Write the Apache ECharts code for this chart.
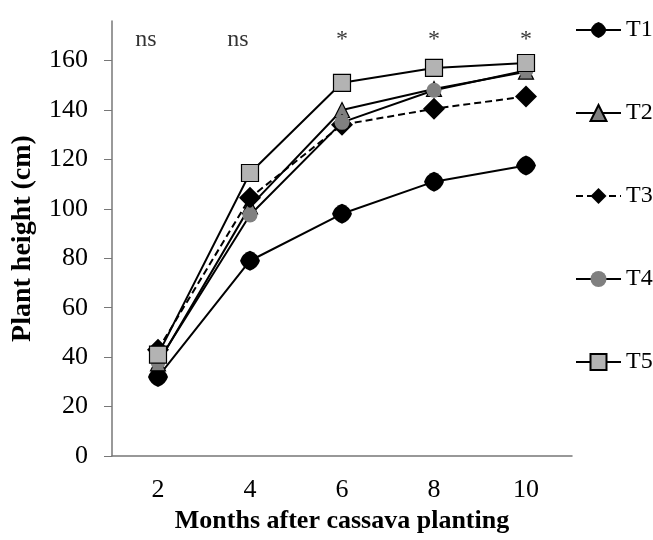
<!DOCTYPE html>
<html>
<head>
<meta charset="utf-8">
<script src="https://cdn.jsdelivr.net/npm/echarts@6/dist/echarts.min.js"></script>
<style>html,body{margin:0;padding:0;background:#fff;}#c{width:653px;height:540px;}</style>
</head>
<body>
<div id="c"></div>
<script>
const months = ['2', '4', '6', '8', '10'];
const t1 = [32, 79, 98, 111, 117.5];
const t2 = [37.5, 101, 140, 148.5, 155.5];
const t3 = [43, 104.5, 134, 140.5, 145.5];
const t4 = [38, 97.5, 135, 148, 156];
const t5 = [41, 114.5, 151, 157, 159];
const signif = ['ns', 'ns', '*', '*', '*'];
const yTicks = [0, 20, 40, 60, 80, 100, 120, 140, 160];

const FONT = 'Liberation Serif';
const AX = '#777777';
const signifLevel = 168.5;
const roundDiamond = 'path://M10,0 Q17.5,2.5 20,10 Q17.5,17.5 10,20 Q2.5,17.5 0,10 Q2.5,2.5 10,0 Z';

const chart = echarts.init(document.getElementById('c'), null, {renderer: 'canvas'});
function lineSeries(name, data, symbol, size, fill, border, dashed) {
  return {
    name: name, type: 'line', data: data,
    symbol: symbol, symbolSize: size,
    lineStyle: {color: '#000', width: 2, type: dashed ? [7, 4] : 'solid'},
    itemStyle: {color: fill, borderColor: border || fill, borderWidth: border ? 1.2 : 0},
    emphasis: {disabled: true}
  };
}
chart.setOption({
  animation: false,
  backgroundColor: '#fff',
  grid: {left: 112, right: 81, top: 21, bottom: 84},
  legend: {
    orient: 'vertical', left: 570, top: 13,
    itemWidth: 45, itemHeight: 20, itemGap: 59,
    textStyle: {fontFamily: FONT, fontSize: 24, color: '#000'},
    data: ['T1', 'T2', 'T3', 'T4', 'T5']
  },
  xAxis: {
    type: 'category', data: months, boundaryGap: true,
    name: 'Months after cassava planting', nameLocation: 'middle', nameGap: 46,
    nameTextStyle: {fontFamily: FONT, fontSize: 26, fontWeight: 'bold', color: '#000'},
    axisLine: {lineStyle: {color: AX, width: 1.5}},
    axisTick: {alignWithLabel: true, length: 6, lineStyle: {color: AX}},
    axisLabel: {fontFamily: FONT, fontSize: 26, color: '#000', margin: 21}
  },
  yAxis: {
    type: 'value', min: 0, max: 176,
    name: 'Plant height (cm)', nameLocation: 'middle', nameGap: 75,
    nameTextStyle: {fontFamily: FONT, fontSize: 28, fontWeight: 'bold', color: '#000'},
    axisLine: {show: true, lineStyle: {color: AX, width: 1.5}},
    axisTick: {show: true, length: 8, lineStyle: {color: AX}, customValues: yTicks},
    axisLabel: {fontFamily: FONT, fontSize: 26, color: '#000', margin: 24, customValues: yTicks},
    splitLine: {show: false}
  },
  series: [
    lineSeries('T1', t1, roundDiamond, 20, '#000', null, false),
    lineSeries('T2', t2, 'triangle', 15, '#808080', '#000', false),
    lineSeries('T3', t3, 'diamond', 22, '#000', null, true),
    lineSeries('T4', t4, 'circle', 15, '#808080', null, false),
    lineSeries('T5', t5, 'rect', 17, '#b3b3b3', '#000', false),
    {
      name: 'signif', type: 'scatter', symbolSize: 0, silent: true,
      data: signif.map(function (s, i) {
        return {value: [months[i], signifLevel], label: {formatter: s, offset: s === 'ns' ? [-12, 0] : [0, 0]}};
      }),
      label: {show: true, position: 'inside', fontFamily: FONT, fontSize: 24, color: '#000'}
    }
  ]
});
</script>
</body>
</html>
